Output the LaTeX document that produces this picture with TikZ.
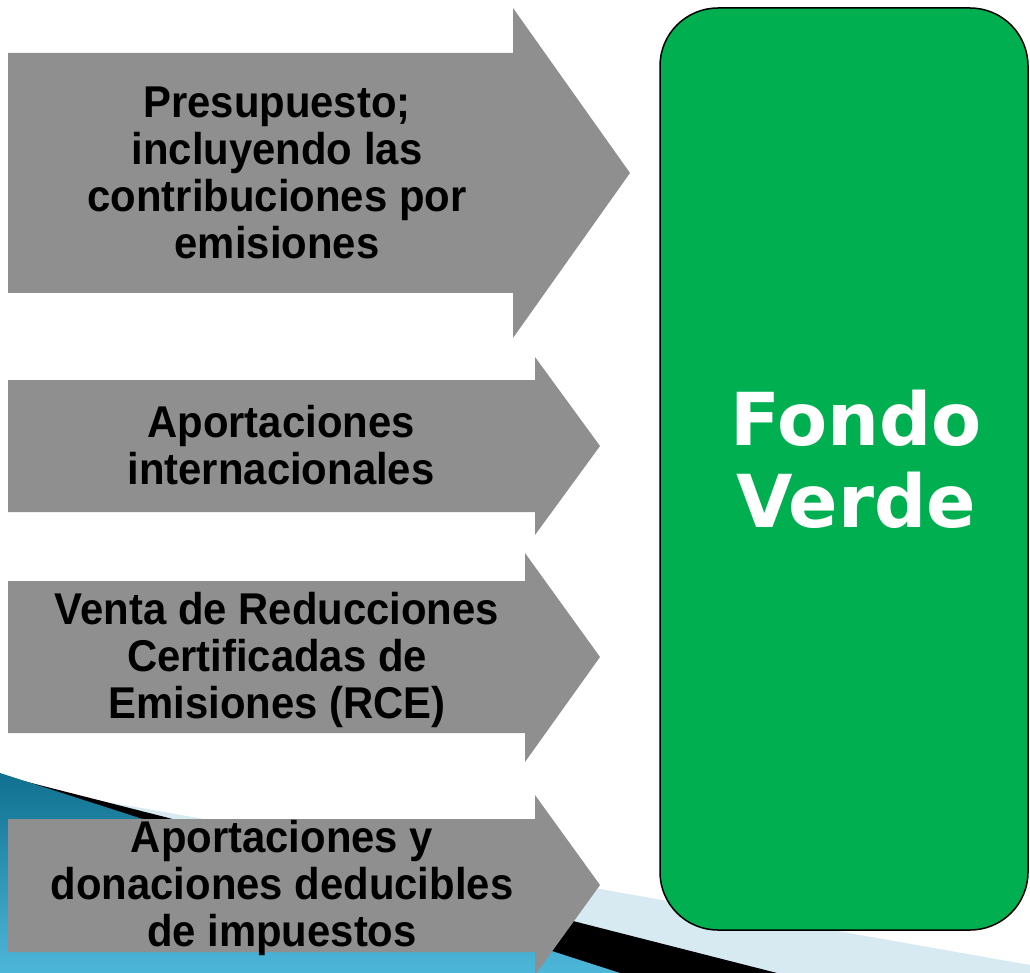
\documentclass[tikz,border=0pt]{standalone}
\usepackage{fontspec}
\setmainfont{Liberation Sans}[FakeStretch=0.94]
\newfontfamily\verdefont{DejaVu Sans}
\definecolor{arrowgray}{HTML}{8F8F8F}
\definecolor{fondogreen}{HTML}{00AF50}
\definecolor{swooshlight}{HTML}{D7E9F1}
\definecolor{swooshdark}{HTML}{10708F}
\definecolor{swooshbright}{HTML}{4DB7DA}

\begin{document}
\begin{tikzpicture}[x=1pt, y=-1pt,
    src/.style={fill=arrowgray},
    srctext/.style={align=center, inner sep=0pt,
        font=\bfseries\fontsize{44.5}{47}\selectfont},
    fondobox/.style={draw=black, line width=1.5pt, fill=fondogreen,
        rounded corners=58pt, minimum width=368pt, minimum height=922pt},
    fondotext/.style={align=center, inner sep=0pt, text=white,
        font=\verdefont\bfseries\fontsize{73}{82}\selectfont}]
    \useasboundingbox (0,0) rectangle (1030,973);

    % swoosh at the bottom
    \begin{scope}
        \clip (0,0) rectangle (1030,973);
        \fill[swooshlight] (0,783) -- (1030,965) -- (1030,973) -- (0,973) -- cycle;
        \fill[black] (0,775) -- (777,973) -- (0,973) -- cycle;
        \shade[top color=swooshdark, bottom color=swooshbright]
            (0,773) -- (620,973) -- (0,973) -- cycle;
    \end{scope}

    \node[fondobox] (fondo) at (844,469) {};
    \node[fondotext] (fondolbl) at (856,459) {Fondo\\Verde};

    \fill[src] (8,53) -- (513,53) -- (513,8) -- (630,173) -- (513,338) -- (513,293) -- (8,293) -- cycle;
    \fill[src] (8,380) -- (535,380) -- (535,357) -- (600,446) -- (535,535) -- (535,512) -- (8,512) -- cycle;
    \fill[src] (8,581) -- (525,581) -- (525,553) -- (600,657) -- (525,762) -- (525,733) -- (8,733) -- cycle;
    \fill[src] (8,819) -- (535,819) -- (535,795) -- (600,885) -- (535,975) -- (535,952) -- (8,952) -- cycle;

    \node[srctext] (presup) at (277,173) {Presupuesto;\\incluyendo las\\contribuciones por\\emisiones};
    \node[srctext] (intl) at (281,445) {Aportaciones\\internacionales};
    \node[srctext] (rce) at (277,660) {Venta de Reducciones\\Certificadas de\\Emisiones (RCE)};
    \node[srctext] (donac) at (282,888) {Aportaciones y\\donaciones deducibles\\de impuestos};
\end{tikzpicture}
\end{document}
